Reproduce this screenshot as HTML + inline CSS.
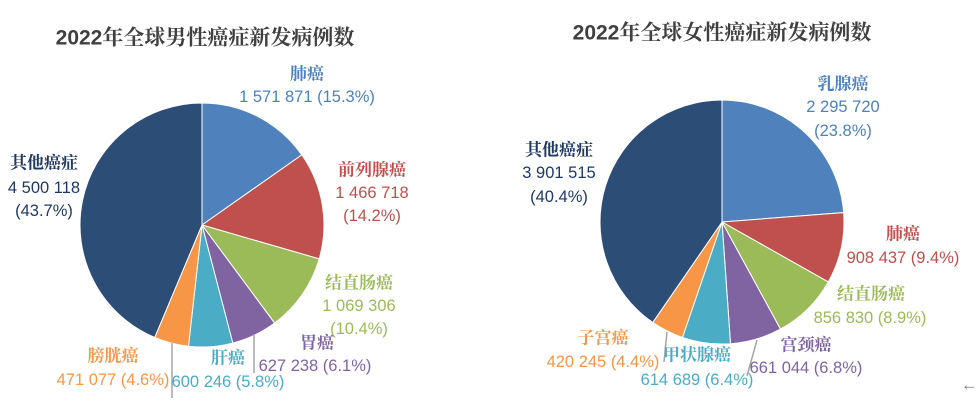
<!DOCTYPE html>
<html><head><meta charset="utf-8"><style>
body{margin:0;background:#fff;}
svg{display:block;font-family:"Liberation Sans","Noto Sans CJK SC",sans-serif;}
text{text-anchor:middle;dominant-baseline:central;font-size:16.5px;}
.t{font-size:21px;font-weight:bold;fill:#404040;font-family:"Liberation Sans","Noto Serif CJK SC",serif;}
.c{font-weight:bold;font-family:"Liberation Sans","Noto Serif CJK SC",serif;font-size:17px;}
</style></head><body>
<svg id="s" width="976" height="409" viewBox="0 0 976 409">
<text class="t" x="205" y="38">2022年全球男性癌症新发病例数</text>
<text class="t" x="722" y="33">2022年全球女性癌症新发病例数</text>
<g id="p1"></g><g id="p2"></g>
<line x1="172" y1="343" x2="172" y2="398" stroke="#a6a6a6" stroke-width="1.5"/>
<line x1="254" y1="334" x2="254" y2="373" stroke="#a6a6a6" stroke-width="1.5"/>
<line x1="667" y1="332" x2="664" y2="362" stroke="#a6a6a6" stroke-width="1.5"/>
<line x1="757" y1="340" x2="747" y2="376" stroke="#a6a6a6" stroke-width="1.5"/>

<g fill="#4F81BD"><text class="c" x="307" y="74">肺癌</text><text x="307" y="97">1 571 871 (15.3%)</text></g>
<g fill="#C0504D"><text class="c" x="372" y="170">前列腺癌</text><text x="372" y="193">1 466 718</text><text x="372" y="216">(14.2%)</text></g>
<g fill="#9BBB59"><text class="c" x="359" y="283">结直肠癌</text><text x="359" y="306">1 069 306</text><text x="359" y="329">(10.4%)</text></g>
<g fill="#8064A2"><text class="c" x="317" y="343">胃癌</text><text x="315" y="366">627 238 (6.1%)</text></g>
<g fill="#4BACC6"><text class="c" x="228" y="358">肝癌</text><text x="228" y="382">600 246 (5.8%)</text></g>
<g fill="#F79646"><text class="c" x="113" y="356">膀胱癌</text><text x="113" y="380">471 077 (4.6%)</text></g>
<g fill="#1F3864"><text class="c" x="44" y="163">其他癌症</text><text x="44" y="188">4 500 118</text><text x="44" y="211">(43.7%)</text></g>

<g fill="#4F81BD"><text class="c" x="843" y="84">乳腺癌</text><text x="843" y="107">2 295 720</text><text x="843" y="131">(23.8%)</text></g>
<g fill="#1F3864"><text class="c" x="559" y="150">其他癌症</text><text x="559" y="173">3 901 515</text><text x="559" y="197">(40.4%)</text></g>
<g fill="#C0504D"><text class="c" x="903" y="234">肺癌</text><text x="903" y="258">908 437 (9.4%)</text></g>
<g fill="#9BBB59"><text class="c" x="871" y="294">结直肠癌</text><text x="870" y="318">856 830 (8.9%)</text></g>
<g fill="#8064A2"><text class="c" x="806" y="345">宫颈癌</text><text x="806" y="368">661 044 (6.8%)</text></g>
<g fill="#F79646"><text class="c" x="603" y="338">子宫癌</text><text x="603" y="362">420 245 (4.4%)</text></g>
<g fill="#4BACC6"><text class="c" x="697" y="355">甲状腺癌</text><text x="697" y="380">614 689 (6.4%)</text></g>
<text x="969" y="385" fill="#808080" font-size="14">←</text>
</svg>
<script>
var cols=["#4F81BD","#C0504D","#9BBB59","#8064A2","#4BACC6","#F79646","#2C4D75"];
function pie(id,cx,cy,r,v){var t=v.reduce(function(a,b){return a+b},0),a=0,h="";
v.forEach(function(x,i){var a2=a+x/t*2*Math.PI;
var x1=cx+r*Math.sin(a),y1=cy-r*Math.cos(a),x2=cx+r*Math.sin(a2),y2=cy-r*Math.cos(a2);
h+='<path d="M'+cx+','+cy+'L'+x1+','+y1+'A'+r+','+r+' 0 '+(a2-a>Math.PI?1:0)+' 1 '+x2+','+y2+'Z" fill="'+cols[i]+'" stroke="#fff" stroke-width="1"/>';a=a2;});
document.getElementById(id).innerHTML=h;}
pie("p1",202,225,122,[1571871,1466718,1069306,627238,600246,471077,4500118]);
pie("p2",722,222,122,[2295720,908437,856830,661044,614689,420245,3901515]);
</script>
</body></html>
